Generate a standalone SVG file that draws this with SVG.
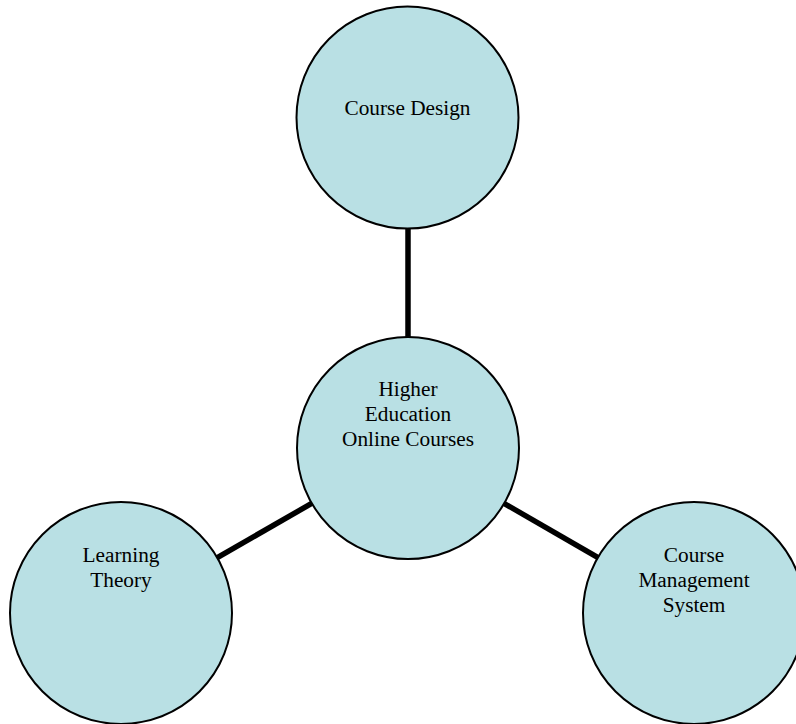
<svg xmlns="http://www.w3.org/2000/svg" width="796" height="724" viewBox="0 0 796 724">
<style>
.node circle{fill:#b9e0e4;stroke:#000;stroke-width:2}
.node text{font-family:"Liberation Serif","Times New Roman",serif;font-size:21.3px;fill:#000;text-anchor:middle}
.conn line{stroke:#000;stroke-width:5.5}
</style>
<rect width="796" height="724" fill="#fff"/>
<g id="connectors" class="conn">
<line x1="408" y1="222" x2="408" y2="345"/>
<line x1="408" y1="448" x2="121" y2="613"/>
<line x1="408" y1="448" x2="694" y2="613"/>
</g>
<g id="node-center" class="node">
<circle cx="408" cy="448" r="111"/>
<text x="408" y="396">Higher</text>
<text x="408" y="421">Education</text>
<text x="408" y="446">Online Courses</text>
</g>
<g id="node-course-design" class="node">
<circle cx="407.5" cy="117.5" r="111"/>
<text x="407.5" y="115">Course Design</text>
</g>
<g id="node-learning-theory" class="node">
<circle cx="121" cy="613" r="111"/>
<text x="121" y="562">Learning</text>
<text x="121" y="587">Theory</text>
</g>
<g id="node-cms" class="node">
<circle cx="694" cy="613" r="111"/>
<text x="694" y="562">Course</text>
<text x="694" y="587">Management</text>
<text x="694" y="612">System</text>
</g>
</svg>
